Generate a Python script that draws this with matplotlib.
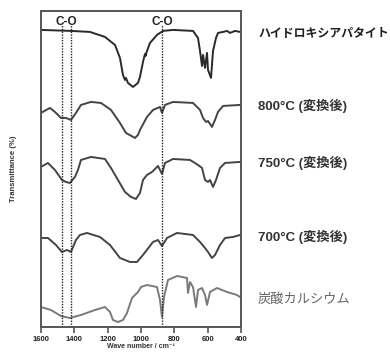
import matplotlib
matplotlib.use("Agg")
import matplotlib.pyplot as plt
import matplotlib.transforms as mtransforms

# ---------------------
# DATA (wavenumber in cm-1, transmittance in stacked arbitrary units)
# ---------------------
HAP_WN = [1600, 1420, 1306, 1216, 1156, 1126, 1108, 1096, 1090, 1078, 1048, 1018, 1006,
          988, 976, 972, 968, 946, 904, 868, 808, 688, 658, 646, 634, 628, 616, 604,
          598, 580, 568, 550, 538, 508, 484, 466, 436, 406]
HAP_T = [297, 296, 295, 290, 282, 269, 252, 247, 249, 244, 240, 244, 250,
         265, 273, 271, 274, 284, 292, 296, 297, 296, 289, 276, 261, 272, 259, 274,
         257, 249, 276, 289, 294, 295, 296, 294, 296, 295]

T800_WN = [1600, 1546, 1516, 1480, 1450, 1420, 1390, 1360, 1300, 1240, 1180, 1126, 1090,
           1036, 1018, 1006, 964, 928, 886, 874, 856, 808, 688, 646, 628, 610, 598, 574,
           556, 538, 508, 406]
T800_T = [214, 219, 215, 209, 209, 207, 214, 222, 225, 224, 217, 204, 194,
          189, 192, 197, 210, 217, 220, 214, 222, 225, 224, 217, 209, 205, 206, 200,
          207, 215, 221, 222]

T750_WN = [1600, 1558, 1516, 1474, 1450, 1426, 1396, 1378, 1360, 1300, 1216, 1180, 1138,
           1096, 1060, 1030, 1006, 988, 964, 934, 898, 874, 856, 808, 706, 658, 634, 616,
           598, 586, 568, 550, 526, 496, 406]
T750_T = [160, 164, 157, 147, 145, 144, 150, 157, 167, 170, 168, 159, 147,
          135, 130, 128, 134, 147, 152, 155, 161, 153, 164, 168, 167, 162, 159, 147,
          145, 147, 140, 147, 159, 164, 165]

T700_WN = [1600, 1558, 1510, 1474, 1444, 1420, 1390, 1366, 1324, 1246, 1186, 1126, 1066,
           1024, 988, 928, 898, 874, 844, 784, 688, 646, 616, 598, 574, 556, 526, 496,
           448, 406]
T700_T = [89, 89, 82, 75, 77, 75, 87, 92, 94, 90, 82, 69, 65,
          65, 72, 85, 87, 81, 89, 94, 92, 85, 79, 75, 69, 72, 82, 89,
          90, 92]

CACO3_WN = [1600, 1540, 1480, 1426, 1360, 1276, 1216, 1186, 1168, 1138, 1108, 1084, 1054,
            1018, 1000, 964, 904, 886, 874, 862, 838, 784, 724, 718, 706, 688, 670, 658,
            634, 616, 604, 586, 544, 484, 424, 406]
CACO3_T = [20, 17, 11, 9, 12, 17, 20, 15, 7, 5, 7, 14, 29,
           35, 40, 42, 40, 27, 10, 30, 47, 51, 49, 34, 45, 40, 20, 37,
           39, 32, 22, 35, 39, 35, 32, 30]

SERIES = [HAP_T, T800_T, T750_T, T700_T, CACO3_T]
SERIES_WN = [HAP_WN, T800_WN, T750_WN, T700_WN, CACO3_WN]
LABELS = ["ハイドロキシアパタイト", "800°C (変換後)", "750°C (変換後)", "700°C (変換後)", "炭酸カルシウム"]
LABEL_Y = [294, 221, 164, 90, 27]
CO_LINES = [1475, 1422, 872]
CO_TEXT_X = [1448, 872]
XTICKS = [1600, 1400, 1200, 1000, 800, 600, 400]

LINE_COLORS = ["#2a2a2a", "#444444", "#444444", "#444444", "#7a7a7a"]
LABEL_COLORS = ["#1e1e1e", "#333333", "#333333", "#333333", "#666666"]
LABEL_WEIGHTS = ["bold", "bold", "bold", "bold", "normal"]
LABEL_SIZES = [8.6, 9.5, 9.5, 9.5, 9.5]
FONTS = ["Liberation Sans", "Noto Sans CJK JP", "DejaVu Sans"]


def main():
    plt.rcParams["font.family"] = FONTS
    fig = plt.figure(figsize=(3.9, 3.52), dpi=100)
    ax = fig.add_axes([0.105, 0.071, 0.513, 0.898])

    for wn, t, c in zip(SERIES_WN, SERIES, LINE_COLORS):
        ax.plot(wn, t, color=c, lw=1.4, solid_joinstyle="round")

    ax.vlines(CO_LINES, 0, 302, colors="#222222", linestyles=(0, (1, 1)), lw=1.0)
    for x in CO_TEXT_X:
        ax.text(x, 305, "C-O", ha="center", va="center", fontsize=8.5,
                fontweight="bold", color="#222222")

    trans = mtransforms.blended_transform_factory(ax.transAxes, ax.transData)
    for lab, y, c, w, s in zip(LABELS, LABEL_Y, LABEL_COLORS, LABEL_WEIGHTS, LABEL_SIZES):
        ax.text(1.085, y, lab, transform=trans, ha="left", va="center",
                fontsize=s, fontweight=w, color=c, clip_on=False)

    ax.set_xlim(1600, 400)
    ax.set_ylim(0, 316)
    ax.set_xticks(XTICKS)
    ax.set_xticklabels([str(v) for v in XTICKS], fontsize=5.5, fontweight="bold", color="#222222")
    ax.set_yticks([])
    ax.tick_params(axis="x", direction="out", length=4.5, width=1.2, pad=2, color="#555555")
    for sp in ax.spines.values():
        sp.set_linewidth(1.4)
        sp.set_color("#555555")

    ax.set_xlabel("Wave number / cm⁻¹", fontsize=5, fontweight="bold", color="#333333")
    ax.xaxis.set_label_coords(0.5, -0.05)
    ax.set_ylabel("Transmittance (%)", fontsize=5.5, fontweight="bold", color="#333333")
    ax.yaxis.set_label_coords(-0.12, 0.5)

    fig.savefig("out.png", dpi=100)
    plt.close(fig)


if __name__ == "__main__":
    main()
